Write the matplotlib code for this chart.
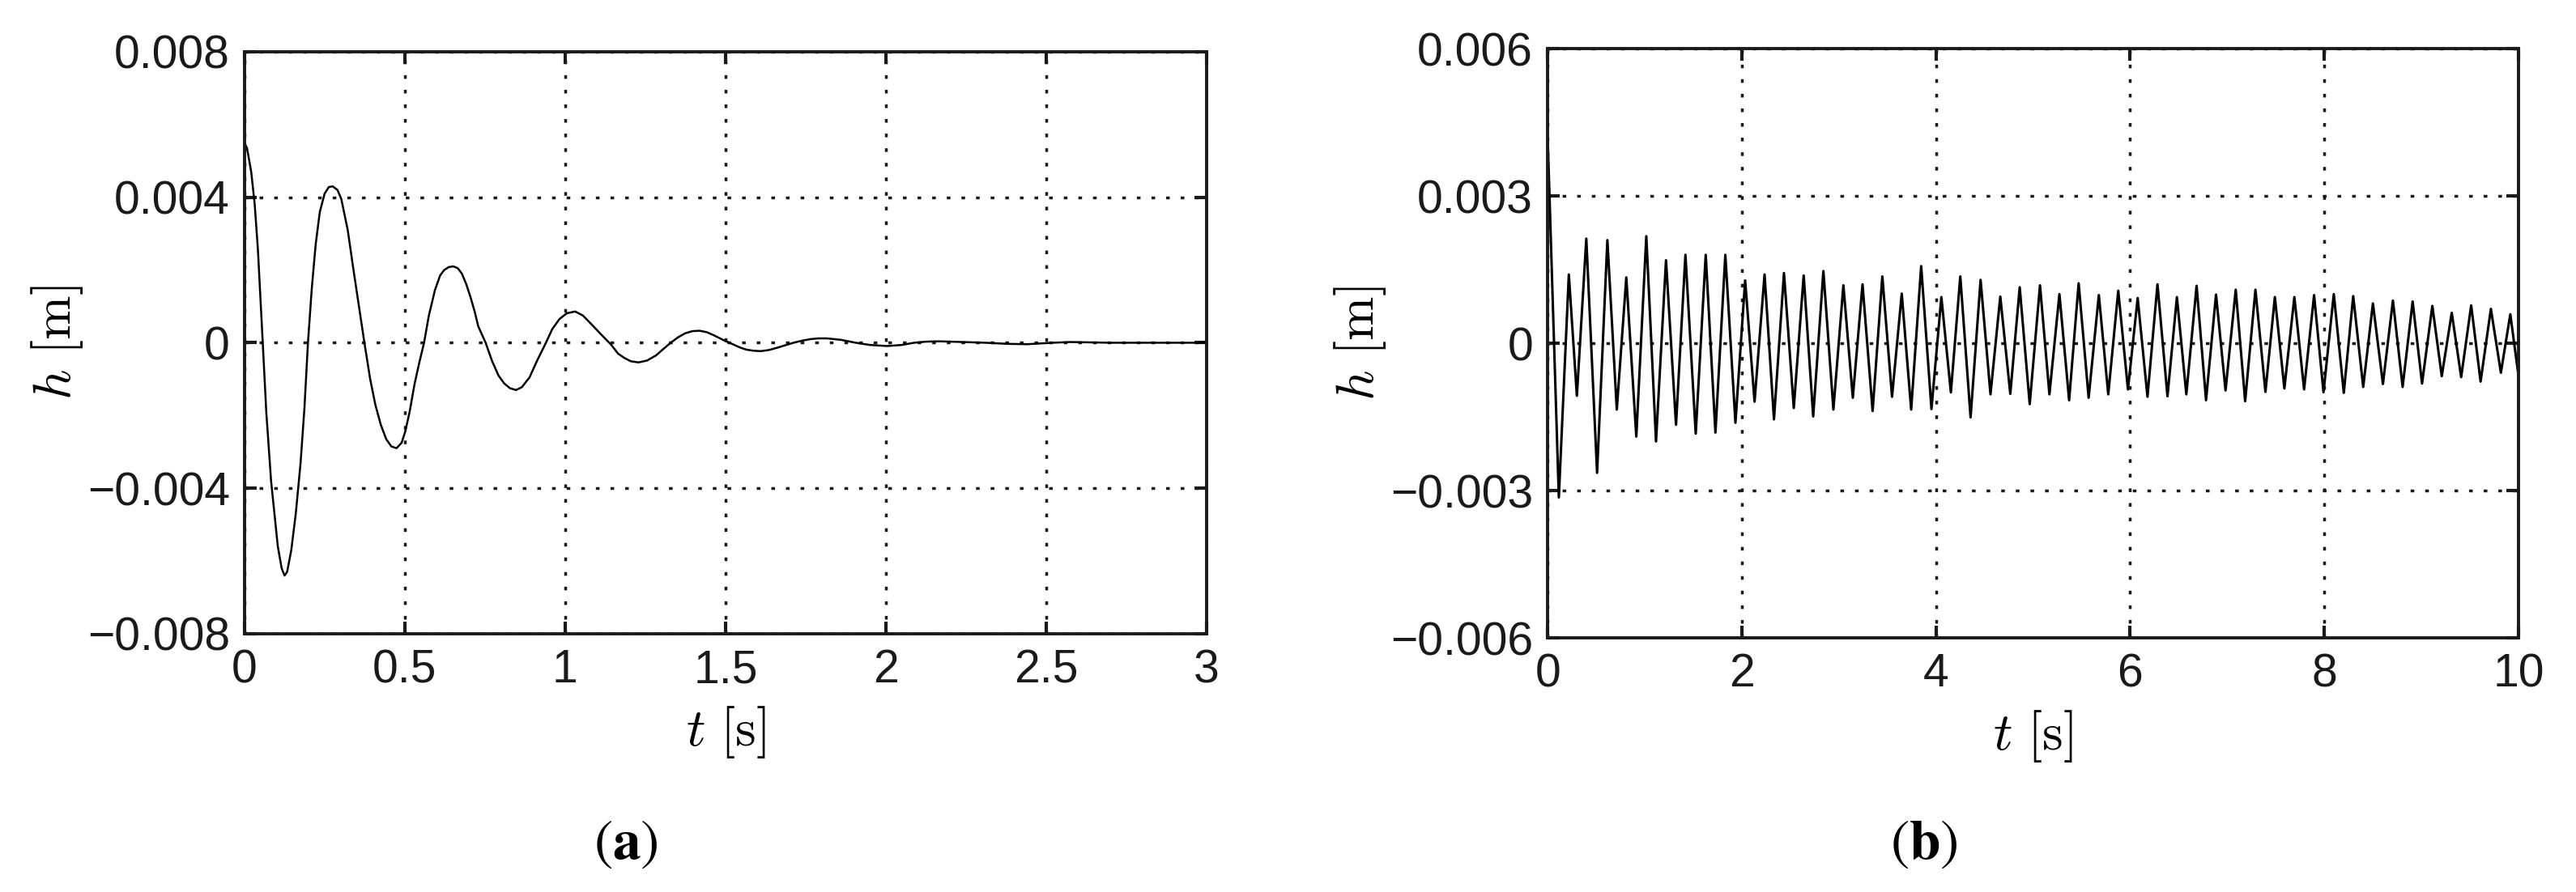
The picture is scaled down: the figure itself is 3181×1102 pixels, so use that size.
import numpy as np
import matplotlib.pyplot as plt
plt.switch_backend('agg')

plt.rcParams['font.family'] = ['Liberation Sans', 'DejaVu Sans']
plt.rcParams['mathtext.fontset'] = 'cm'

# (a) damped response (t in s, h in mm)
t_a = [0.000, 0.008, 0.021, 0.032, 0.042, 0.057, 0.068, 0.083, 0.104, 0.116,
       0.125, 0.133, 0.146, 0.160, 0.175, 0.187, 0.198, 0.210, 0.222, 0.235,
       0.250, 0.263, 0.275, 0.290, 0.302, 0.322, 0.340, 0.357, 0.374, 0.392,
       0.408, 0.425, 0.442, 0.458, 0.474, 0.490, 0.501, 0.515, 0.530, 0.545,
       0.560, 0.575, 0.594, 0.610, 0.623, 0.637, 0.651, 0.665, 0.678, 0.692,
       0.705, 0.718, 0.729, 0.752, 0.772, 0.792, 0.810, 0.828, 0.847, 0.865,
       0.889, 0.912, 0.940, 0.960, 0.982, 1.005, 1.031, 1.055, 1.084, 1.113,
       1.143, 1.165, 1.185, 1.205, 1.229, 1.255, 1.283, 1.305, 1.329, 1.352,
       1.374, 1.397, 1.419, 1.442, 1.465, 1.492, 1.520, 1.545, 1.565, 1.588,
       1.610, 1.635, 1.660, 1.686, 1.712, 1.740, 1.765, 1.790, 1.816, 1.860,
       1.906, 1.950, 2.004, 2.050, 2.088, 2.125, 2.166, 2.240, 2.310, 2.380,
       2.440, 2.520, 2.575, 2.640, 2.700, 3.000]
h_a = [5.50, 5.35, 4.70, 3.80, 2.55, 0.00, -1.90, -3.80, -5.60, -6.20,
       -6.40, -6.30, -5.70, -4.70, -3.30, -1.80, 0.00, 1.50, 2.70, 3.60,
       4.10, 4.28, 4.30, 4.20, 3.95, 3.10, 2.00, 1.00, 0.00, -1.00,
       -1.70, -2.25, -2.65, -2.85, -2.90, -2.75, -2.45, -1.90, -1.15, -0.55,
       0.00, 0.75, 1.45, 1.85, 2.00, 2.08, 2.10, 2.05, 1.90, 1.60,
       1.25, 0.85, 0.45, 0.00, -0.50, -0.90, -1.12, -1.25, -1.30, -1.22,
       -0.95, -0.50, 0.00, 0.38, 0.65, 0.81, 0.86, 0.75, 0.49, 0.22,
       -0.05, -0.30, -0.42, -0.51, -0.54, -0.49, -0.35, -0.18, 0.00, 0.15,
       0.26, 0.32, 0.33, 0.29, 0.20, 0.08, -0.03, -0.13, -0.19, -0.22,
       -0.23, -0.20, -0.14, -0.07, 0.00, 0.06, 0.10, 0.12, 0.12, 0.08,
       0.00, -0.06, -0.09, -0.06, 0.00, 0.03, 0.04, 0.02, 0.00, -0.03,
       -0.04, 0.00, 0.02, 0.01, 0.00, 0.00]

# (b) extrema of the sustained oscillation (t in s, h in mm)
t_b = [0, 0.115, 0.218, 0.301, 0.398, 0.509, 0.615, 0.712, 0.810, 0.913,
       1.016, 1.116, 1.219, 1.322, 1.419, 1.525, 1.628, 1.728, 1.830, 1.934,
       2.034, 2.131, 2.234, 2.331, 2.434, 2.535, 2.637, 2.735, 2.840, 2.943,
       3.046, 3.143, 3.243, 3.347, 3.447, 3.547, 3.647, 3.744, 3.847, 3.953,
       4.055, 4.153, 4.250, 4.356, 4.459, 4.561, 4.662, 4.765, 4.862, 4.965,
       5.071, 5.168, 5.271, 5.371, 5.469, 5.572, 5.677, 5.774, 5.877, 5.977,
       6.077, 6.178, 6.281, 6.384, 6.481, 6.578, 6.684, 6.781, 6.884, 6.982,
       7.087, 7.184, 7.290, 7.393, 7.490, 7.588, 7.691, 7.791, 7.894, 7.991,
       8.097, 8.200, 8.297, 8.400, 8.500, 8.603, 8.706, 8.806, 8.909, 9.006,
       9.112, 9.209, 9.312, 9.409, 9.512, 9.609, 9.715, 9.818, 9.915, 10.0]
h_b = [4.2, -3.14, 1.40, -1.07, 2.13, -2.64, 2.10, -1.35, 1.34, -1.90,
       2.18, -2.00, 1.69, -1.66, 1.80, -1.84, 1.80, -1.82, 1.80, -1.62,
       1.28, -1.19, 1.40, -1.55, 1.43, -1.32, 1.38, -1.49, 1.47, -1.35,
       1.18, -1.11, 1.20, -1.38, 1.36, -1.09, 1.01, -1.35, 1.57, -1.34,
       0.94, -1.00, 1.36, -1.51, 1.29, -1.04, 0.95, -1.03, 1.14, -1.24,
       1.18, -1.04, 1.00, -1.16, 1.22, -1.11, 0.98, -1.04, 1.07, -0.94,
       0.92, -1.09, 1.20, -1.08, 0.94, -1.04, 1.17, -1.16, 0.99, -0.96,
       1.09, -1.18, 1.09, -0.99, 0.94, -0.92, 0.94, -0.94, 0.98, -1.00,
       1.00, -1.01, 0.96, -0.89, 0.81, -0.83, 0.87, -0.89, 0.85, -0.82,
       0.76, -0.67, 0.62, -0.69, 0.77, -0.78, 0.70, -0.60, 0.59, -0.67]

xticks_a = [0, 0.5, 1, 1.5, 2, 2.5, 3]
xlabels_a = ['0', '0.5', '1', '1.5', '2', '2.5', '3']
yticks_a = [-0.008, -0.004, 0, 0.004, 0.008]
ylabels_a = ['\u22120.008', '\u22120.004', '0', '0.004', '0.008']

xticks_b = [0, 2, 4, 6, 8, 10]
xlabels_b = ['0', '2', '4', '6', '8', '10']
yticks_b = [-0.006, -0.003, 0, 0.003, 0.006]
ylabels_b = ['\u22120.006', '\u22120.003', '0', '0.003', '0.006']

ink = '#1a1a1a'

fig = plt.figure(figsize=(31.81, 11.02), dpi=100)
ax1 = fig.add_axes([0.0949, 0.2895, 0.3735, 0.6525])
ax2 = fig.add_axes([0.6008, 0.2849, 0.3769, 0.6606])

ax1.plot(t_a, np.array(h_a) * 1e-3, color='black', lw=1.8,
         solid_joinstyle='round')
ax2.plot(t_b, np.array(h_b) * 1e-3, color='black', lw=2.2,
         solid_joinstyle='round')

setups = [(ax1, xticks_a, xlabels_a, yticks_a, ylabels_a, 3),
          (ax2, xticks_b, xlabels_b, yticks_b, ylabels_b, 10)]
for ax, xt, xl, yt, yl, tmax in setups:
    ax.set_xlim(0, tmax)
    ax.set_ylim(yt[0], yt[-1])
    ax.set_xticks(xt, xl)
    ax.set_yticks(yt, yl)
    ax.grid(True, color=ink, linestyle=(0, (1.3, 3.9)), linewidth=2.5)
    ax.tick_params(direction='in', length=11, width=3, top=True, right=True,
                   labelsize=41, pad=13, colors=ink)
    for sp in ax.spines.values():
        sp.set_linewidth(2.8)
        sp.set_color(ink)
    ax.set_xlabel(r'$t\ [\mathrm{s}]$', fontsize=47, labelpad=11)
    ax.set_ylabel(r'$h\ [\mathrm{m}]$', fontsize=47, labelpad=2)

fig.text(773 / 3181, 1 - 1043 / 1102, r'$(\mathbf{a})$', fontsize=50,
         math_fontfamily='stix', ha='center', va='center')
fig.text(2376 / 3181, 1 - 1043 / 1102, r'$(\mathbf{b})$', fontsize=50,
         math_fontfamily='stix', ha='center', va='center')

fig.savefig('out.png', dpi=100)
